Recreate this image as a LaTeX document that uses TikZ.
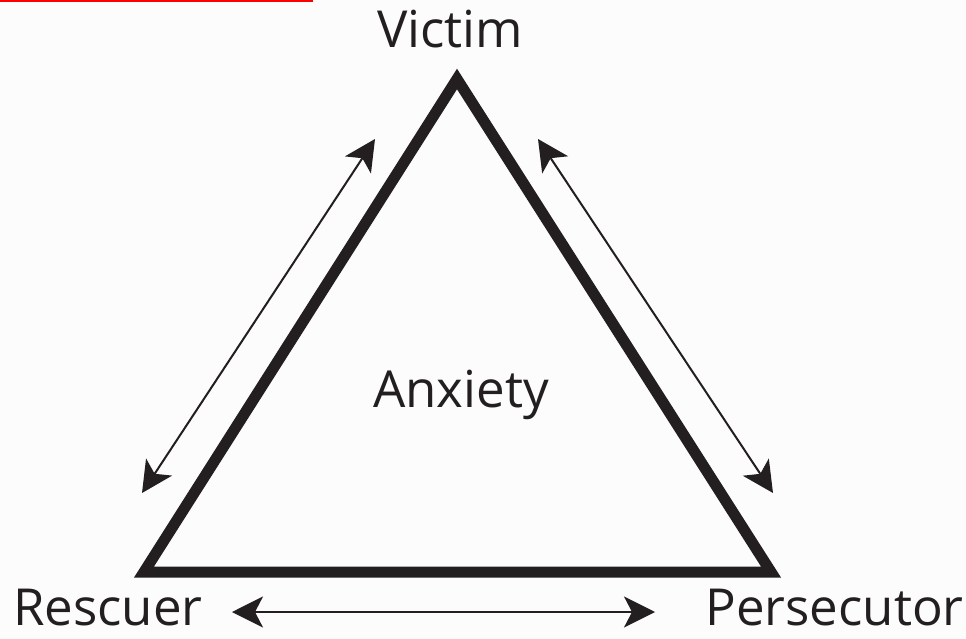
\documentclass[tikz,border=0pt]{standalone}
\usepackage{fontspec}
\setmainfont{Open Sans}
\usetikzlibrary{arrows.meta}
\definecolor{ink}{RGB}{35,31,32}
\definecolor{bg}{RGB}{252,252,252}
\tikzset{
  tri/.style={draw=ink, line width=11pt, line join=miter, miter limit=10},
  dbl/.style={draw=ink, line width=2pt, {Stealth[length=31pt,width=31pt,inset=8pt]}-{Stealth[length=31pt,width=31pt,inset=8pt]}},
  lbl/.style={text=ink, font=\fontsize{51}{51}\selectfont, inner sep=0pt, anchor=base},
  lblb/.style={lbl, text depth=0pt}
}
\begin{document}
\begin{tikzpicture}[x=1pt,y=-1pt]
\fill[bg] (0,0) rectangle (966,639);
\useasboundingbox (0,0) rectangle (966,639);
\draw[red, line width=2.5pt] (0,1) -- (313,1);
\coordinate (V) at (457,79);
\coordinate (R) at (144,572);
\coordinate (P) at (771,572);
\draw[tri] (V) -- (R) -- (P) -- cycle;
\coordinate (a1) at (142,493);
\coordinate (a2) at (375,139);
\coordinate (b1) at (538,139);
\coordinate (b2) at (773,493);
\coordinate (c1) at (232,612);
\coordinate (c2) at (655,612);
\draw[dbl] (a1) -- (a2);
\draw[dbl] (b1) -- (b2);
\draw[dbl] (c1) -- (c2);
\node[lbl] (victim) at (450,48) {Victim};
\node[lbl] (anx) at (461,407) {Anxiety};
\node[lblb, anchor=base west] (resc) at (13,625) {Rescuer};
\node[lblb, anchor=base east] (pers) at (964,625) {Persecutor};
\end{tikzpicture}
\end{document}
